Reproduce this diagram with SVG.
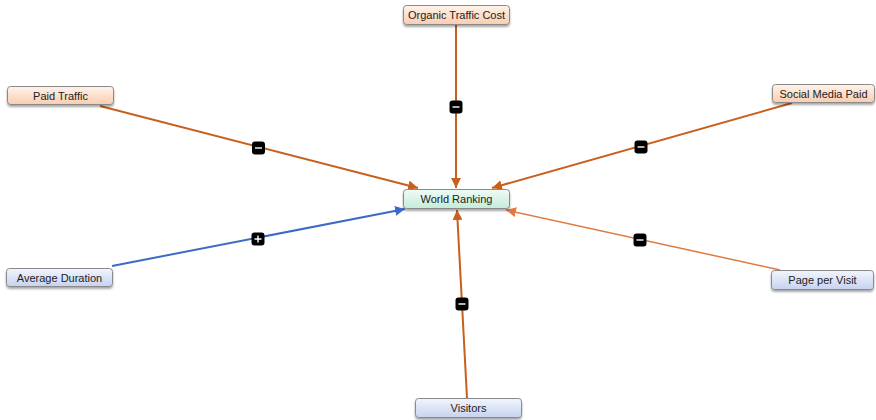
<svg xmlns="http://www.w3.org/2000/svg" width="876" height="420" viewBox="0 0 876 420">
  <defs>
    <linearGradient id="gPeach" x1="0" y1="0" x2="0" y2="1">
      <stop offset="0" stop-color="#fff3ea"/>
      <stop offset="1" stop-color="#f9cdb0"/>
    </linearGradient>
    <linearGradient id="gMint" x1="0" y1="0" x2="0" y2="1">
      <stop offset="0" stop-color="#f0fbf5"/>
      <stop offset="1" stop-color="#c4ecd9"/>
    </linearGradient>
    <linearGradient id="gBlue" x1="0" y1="0" x2="0" y2="1">
      <stop offset="0" stop-color="#f2f5fd"/>
      <stop offset="1" stop-color="#c6d3f0"/>
    </linearGradient>
    <filter id="shadow" x="-10%" y="-30%" width="120%" height="170%">
      <feGaussianBlur in="SourceAlpha" stdDeviation="1.2"/>
      <feOffset dx="0" dy="1.5"/>
      <feComponentTransfer><feFuncA type="linear" slope="0.35"/></feComponentTransfer>
      <feMerge><feMergeNode/><feMergeNode in="SourceGraphic"/></feMerge>
    </filter>
    <marker id="arrOrange" viewBox="0 0 10 10" refX="10" refY="5" markerWidth="10" markerHeight="10" markerUnits="userSpaceOnUse" orient="auto">
      <path d="M0,0 L10,5 L0,10 z" fill="#c95f1c"/>
    </marker>
    <marker id="arrLight" viewBox="0 0 10 10" refX="10" refY="5" markerWidth="10" markerHeight="10" markerUnits="userSpaceOnUse" orient="auto">
      <path d="M0,0 L10,5 L0,10 z" fill="#e07a3e"/>
    </marker>
    <marker id="arrBlue" viewBox="0 0 10 10" refX="10" refY="5" markerWidth="10" markerHeight="10" markerUnits="userSpaceOnUse" orient="auto">
      <path d="M0,0 L10,5 L0,10 z" fill="#3a6cc6"/>
    </marker>
  </defs>
  <style>
    .node rect { stroke: #8a8a8a; stroke-width: 1; filter: url(#shadow); }
    .node text { font-family: "Liberation Sans", Arial, sans-serif; font-size: 11px; fill: #222; text-anchor: middle; }
    .edge { fill: none; stroke-width: 2; }
    .neg { stroke: #c95f1c; }
    .negl { stroke: #e07a3e; stroke-width: 1.5; }
    .pos { stroke: #3a6cc6; }
    .badge rect { fill: #000; }
    .badge path { stroke: #fff; stroke-width: 1.4; }
  </style>

  <rect width="876" height="420" fill="#ffffff"/>

  <!-- connectors -->
  <g id="connectors">
    <line class="edge neg" x1="456" y1="25" x2="456" y2="188" marker-end="url(#arrOrange)"/>
    <line class="edge neg" x1="100" y1="106" x2="418" y2="188" marker-end="url(#arrOrange)"/>
    <line class="edge neg" x1="792" y1="103" x2="492" y2="188" marker-end="url(#arrOrange)"/>
    <line class="edge pos" x1="112" y1="266" x2="405" y2="209" marker-end="url(#arrBlue)"/>
    <line class="edge negl" x1="780" y1="270" x2="506" y2="210" marker-end="url(#arrLight)"/>
    <line class="edge neg" x1="467" y1="398" x2="457" y2="210" marker-end="url(#arrOrange)"/>

    <!-- polarity badges -->
    <g class="badge"><rect x="449.5" y="100.5" width="13" height="13" rx="3"/><path d="M452.5,107 h7"/></g>
    <g class="badge"><rect x="252" y="141.5" width="13" height="13" rx="3"/><path d="M255,148 h7"/></g>
    <g class="badge"><rect x="634.5" y="140.5" width="13" height="13" rx="3"/><path d="M637.5,147 h7"/></g>
    <g class="badge"><rect x="251.5" y="232.5" width="13" height="13" rx="3"/><path d="M254.5,239 h7 M258,235.5 v7"/></g>
    <g class="badge"><rect x="633.5" y="233.5" width="13" height="13" rx="3"/><path d="M636.5,240 h7"/></g>
    <g class="badge"><rect x="455.5" y="297.5" width="13" height="13" rx="3"/><path d="M458.5,304 h7"/></g>
  </g>

  <!-- nodes -->
  <g id="organic-traffic-cost" class="node">
    <rect x="403.5" y="5.5" width="106" height="19" rx="3" fill="url(#gPeach)"/>
    <text x="456.5" y="19">Organic Traffic Cost</text>
  </g>
  <g id="paid-traffic" class="node">
    <rect x="7.5" y="86.5" width="106" height="18" rx="3" fill="url(#gPeach)"/>
    <text x="60.5" y="99.5">Paid Traffic</text>
  </g>
  <g id="social-media-paid" class="node">
    <rect x="772.5" y="84.5" width="102" height="18" rx="3" fill="url(#gPeach)"/>
    <text x="823.5" y="97.5">Social Media Paid</text>
  </g>
  <g id="world-ranking" class="node">
    <rect x="403.5" y="189.5" width="106" height="19" rx="3" fill="url(#gMint)"/>
    <text x="456.5" y="203">World Ranking</text>
  </g>
  <g id="average-duration" class="node">
    <rect x="6.5" y="268.5" width="106" height="18" rx="3" fill="url(#gBlue)"/>
    <text x="59.5" y="281.5">Average Duration</text>
  </g>
  <g id="page-per-visit" class="node">
    <rect x="771.5" y="270.5" width="102" height="19" rx="3" fill="url(#gBlue)"/>
    <text x="822.5" y="284">Page per Visit</text>
  </g>
  <g id="visitors" class="node">
    <rect x="415.5" y="398.5" width="106" height="19" rx="3" fill="url(#gBlue)"/>
    <text x="468.5" y="412">Visitors</text>
  </g>
</svg>
